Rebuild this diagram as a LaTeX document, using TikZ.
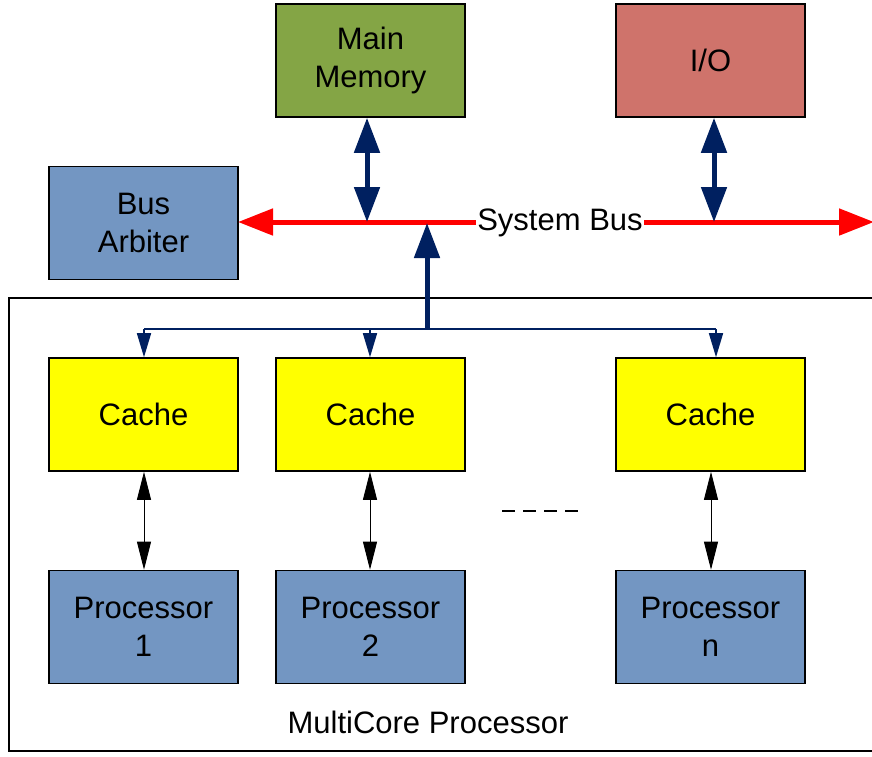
\documentclass[tikz,border=0pt]{standalone}
\usepackage{fontspec}
\setmainfont{Liberation Sans}
\usetikzlibrary{arrows.meta}
\definecolor{memgreen}{RGB}{132,165,69}
\definecolor{iored}{RGB}{207,115,107}
\definecolor{boxblue}{RGB}{115,150,194}
\definecolor{navy}{RGB}{0,32,96}
\definecolor{cacheyellow}{RGB}{255,255,0}
\definecolor{busred}{RGB}{255,0,0}
\tikzset{
  unit/.style={draw=black, line width=1.6pt, minimum width=189pt, minimum height=113pt, inner sep=0pt, align=center, font=\fontsize{31}{38}\selectfont},
  bigarrow/.style={draw=navy, line width=5pt, {Triangle[length=35pt,width=25pt]}-{Triangle[length=35pt,width=25pt]}},
  uparrow/.style={draw=navy, line width=5pt, -{Triangle[length=35pt,width=25pt]}},
  busarrow/.style={draw=busred, line width=5pt, {Triangle[length=35pt,width=26pt]}-{Triangle[length=35pt,width=26pt]}},
  feed/.style={draw=navy, line width=1.6pt, -{Triangle[length=24pt,width=14pt]}},
  link/.style={draw=black, line width=0.9pt, {Triangle[length=28pt,width=14pt]}-{Triangle[length=28pt,width=14pt]}}
}
\begin{document}
\begin{tikzpicture}[x=1pt,y=-1pt]
\useasboundingbox (0,0) rectangle (872,756);
\clip (0,0) rectangle (872,756);
% outer multicore box
\draw[line width=1.2pt] (9,298) rectangle (900,751);
\node[font=\fontsize{31}{38}\selectfont] (mclabel) at (428,722) {MultiCore Processor};
% top units
\node[unit, fill=memgreen] (mem) at (370.5,60.5) {Main\\Memory};
\node[unit, fill=iored] (io) at (710.5,60.5) {I/O};
\node[unit, fill=boxblue] (arb) at (143.5,223) {Bus\\Arbiter};
% caches and processors
\node[unit, fill=cacheyellow] (c1) at (143.5,414.5) {Cache};
\node[unit, fill=cacheyellow] (c2) at (370.5,414.5) {Cache};
\node[unit, fill=cacheyellow] (cn) at (710.5,414.5) {Cache};
\node[unit, fill=boxblue] (p1) at (143.5,627) {Processor\\1};
\node[unit, fill=boxblue] (p2) at (370.5,627) {Processor\\2};
\node[unit, fill=boxblue] (pn) at (710.5,627) {Processor\\n};
% system bus
\coordinate (busL) at (238,222);
\coordinate (busR) at (874,222);
\coordinate (memtap) at (367,222);
\coordinate (iotap) at (714,222);
\coordinate (uptap) at (427,223);
\draw[busarrow] (busL) -- (busR);
\node[fill=white, inner sep=1pt, font=\fontsize{31}{38}\selectfont] (sysbus) at (560,223) {System Bus};
\draw[bigarrow] (mem.south -| memtap) -- (memtap);
\draw[bigarrow] (io.south -| iotap) -- (iotap);
% internal bus
\coordinate (jL) at (144,329);
\coordinate (jR) at (716,329);
\coordinate (jM) at (427,329);
\coordinate (j2) at (370,329);
\draw[navy, line width=1.6pt] (jL) -- (jR);
\draw[uparrow] (jM) -- (uptap);
\draw[feed] (jL) -- (c1.north -| jL);
\draw[feed] (j2) -- (c2.north -| j2);
\draw[feed] (jR) -- (cn.north -| jR);
% cache <-> processor
\draw[link] (c1.south -| 144,0) -- (p1.north -| 144,0);
\draw[link] (c2.south -| 370,0) -- (p2.north -| 370,0);
\draw[link] (cn.south -| 711,0) -- (pn.north -| 711,0);
% ellipsis dashes
\coordinate (d1) at (502,511);
\coordinate (d2) at (580,511);
\draw[line width=1.2pt, dash pattern=on 13pt off 8pt] (d1) -- (d2);
\end{tikzpicture}
\end{document}
